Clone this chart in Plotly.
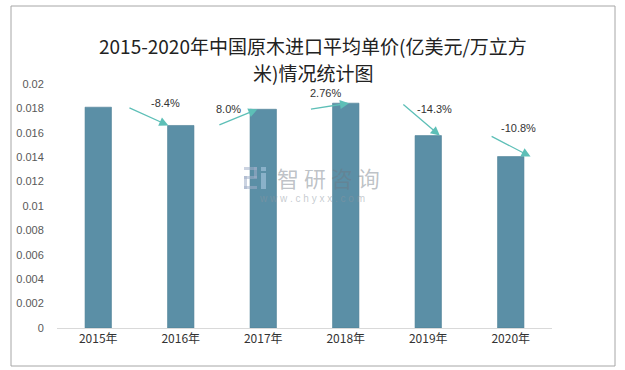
import plotly.graph_objects as go

years = ["2015年", "2016年", "2017年", "2018年", "2019年", "2020年"]
values = [0.0181, 0.0166, 0.01793, 0.01843, 0.01577, 0.01405]
changes = ["-8.4%", "8.0%", "2.76%", "-14.3%", "-10.8%"]
yticks = [0, 0.002, 0.004, 0.006, 0.008, 0.01, 0.012, 0.014, 0.016, 0.018, 0.02]
ytick_text = ["0", "0.002", "0.004", "0.006", "0.008", "0.01", "0.012", "0.014", "0.016", "0.018", "0.02"]

# layout helpers (positions, not data)
W, H = 625, 370
L, R, T, B = 57, 73, 84, 42
PW, PH = W - L - R, H - T - B
def px(x):
    return (x - L) / PW
def py(y):
    return (H - B - y) / PH

tail_off = [0.36, 0.45, 0.56, 0.68, 0.75]
head_off = [0.85, 0.93, 1.04, 1.14, 1.24]
label_x = [0.82, 1.58, 2.75, 4.07, 5.09]
label_y = [0.01844, 0.01795, 0.01926, 0.01795, 0.01639]

idx = list(range(len(years)))
fig = go.Figure()
fig.add_trace(go.Bar(
    x=idx, y=values, width=0.32,
    marker=dict(color="#5b8fa6", line=dict(color="#4d7f96", width=0.6)),
    hoverinfo="skip",
))

ann = []
for i in range(len(changes)):
    ann.append(dict(
        x=i + head_off[i], y=values[i + 1], ax=i + tail_off[i], ay=values[i],
        xref="x", yref="y", axref="x", ayref="y",
        showarrow=True, arrowhead=2, arrowsize=1.4, arrowwidth=1.3,
        arrowcolor="#5dbfb7", text="", standoff=0, startstandoff=0,
    ))
    ann.append(dict(
        x=label_x[i], y=label_y[i], xref="x", yref="y", showarrow=False,
        text=changes[i], font=dict(family="Liberation Sans, Arial", size=11, color="#333333"),
    ))

# title
ann.append(dict(x=px(313), y=py(30), xref="paper", yref="paper", showarrow=False,
                text="2015-2020年中国原木进口平均单价(亿美元/万立方",
                font=dict(family="Noto Sans CJK SC", size=19, color="#222222")))
ann.append(dict(x=px(313), y=py(57), xref="paper", yref="paper", showarrow=False,
                text="米)情况统计图",
                font=dict(family="Noto Sans CJK SC", size=19, color="#222222")))
# watermark
ann.append(dict(x=px(328), y=py(177), xref="paper", yref="paper", showarrow=False,
                text="智 研 咨 询",
                font=dict(family="Noto Sans CJK SC", size=22, color="rgba(110,120,130,0.45)")))
ann.append(dict(x=px(312), y=py(198), xref="paper", yref="paper", showarrow=False,
                text="w w w . c h y x x . c o m",
                font=dict(family="Liberation Sans", size=10, color="rgba(140,150,160,0.5)")))

shapes = [
    dict(type="rect", xref="paper", yref="paper", x0=px(11), x1=px(615), y0=py(366), y1=py(6),
         line=dict(color="#a6a6a6", width=1), fillcolor="rgba(0,0,0,0)", layer="below"),
]
# watermark logo approximation
logo_c = "rgba(160,175,200,0.55)"
logo_c2 = "rgba(170,200,225,0.6)"
for (x0, y0, x1, y1, c) in [
    (244, 167, 257, 170, logo_c), (254, 167, 257, 178, logo_c), (244, 176, 257, 179, logo_c),
    (244, 176, 247, 189, logo_c), (244, 186, 257, 189, logo_c),
    (261, 167, 266, 171, logo_c2), (261, 173, 266, 189, logo_c2),
]:
    shapes.append(dict(type="rect", xref="paper", yref="paper", x0=px(x0), x1=px(x1),
                       y0=py(y1), y1=py(y0), fillcolor=c, line=dict(width=0)))

fig.update_layout(
    width=W, height=H,
    margin=dict(l=L, r=R, t=T, b=B, pad=0),
    paper_bgcolor="white", plot_bgcolor="white",
    showlegend=False,
    annotations=ann, shapes=shapes,
    xaxis=dict(range=[-0.5, 5.5], tickvals=idx, ticktext=years, showgrid=False,
               showline=True, linecolor="#d9d9d9", linewidth=1, ticks="",
               tickfont=dict(family="Noto Sans CJK SC", size=12, color="#333333"),
               zeroline=False, fixedrange=True),
    yaxis=dict(range=[0, 0.02], tickvals=yticks, ticktext=ytick_text, showgrid=False,
               showline=False, zeroline=False, ticks="outside", ticklen=10,
               tickcolor="rgba(0,0,0,0)",
               tickfont=dict(family="Liberation Sans, Arial", size=11, color="#595959"),
               fixedrange=True),
)

fig.write_html("out.html", config={"displayModeBar": False},
               post_script="document.body.style.margin='0';document.body.style.padding='0';")
